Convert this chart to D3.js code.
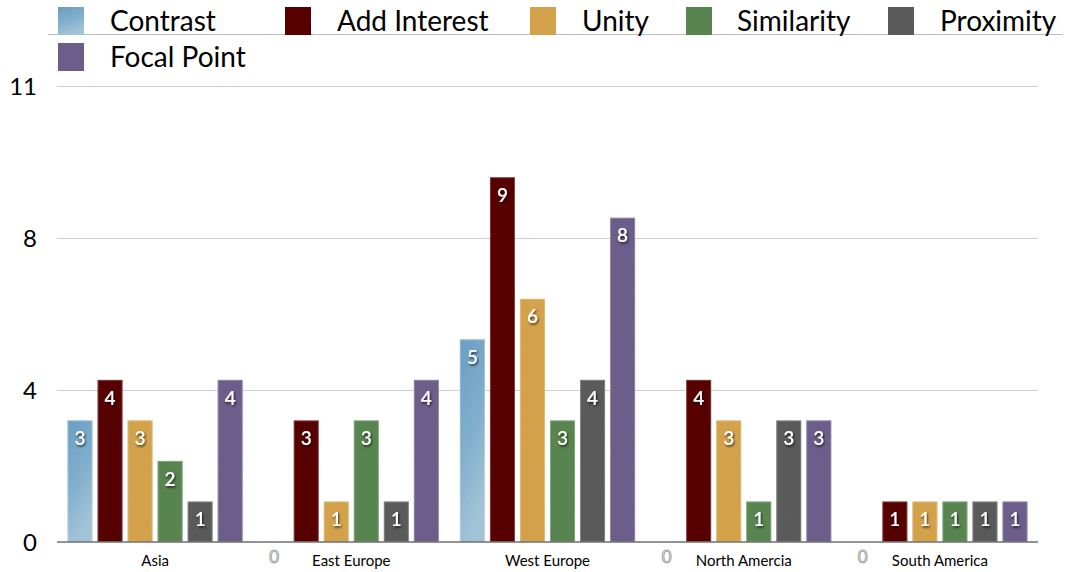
<!DOCTYPE html>
<html>
<head>
<meta charset="utf-8">
<script src="https://cdn.jsdelivr.net/npm/d3@7"></script>
<style>
  html, body { margin: 0; padding: 0; background: #fff; }
  svg { display: block; }
  text { font-family: Lato, "Open Sans", sans-serif; }
</style>
</head>
<body>
<svg id="chart" width="1070" height="572"></svg>
<script>
// ---- data ----
const categories = ["Asia", "East Europe", "West Europe", "North Amercia", "South America"];
const seriesNames = ["Contrast", "Add Interest", "Unity", "Similarity", "Proximity", "Focal Point"];
const contrast    = [3, 0, 5, 0, 0];
const addInterest = [4, 3, 9, 4, 1];
const unity       = [3, 1, 6, 3, 1];
const similarity  = [2, 3, 3, 1, 1];
const proximity   = [1, 1, 4, 3, 1];
const focalPoint  = [4, 4, 8, 3, 1];
const seriesValues = [contrast, addInterest, unity, similarity, proximity, focalPoint];
const yTickValues = [0, 3.75, 7.5, 11.25];
const yTickLabels = ["0", "4", "8", "11"];
const colors = ["#7aabcd", "#5a0303", "#d8a64d", "#5b8853", "#5d5d5d", "#6f618e"];

// ---- layout ----
const svg = d3.select("#chart");
const plot = { left: 57, right: 1038, top: 86, bottom: 542 };

const defs = svg.append("defs");
// paper-like texture filter
const f = defs.append("filter").attr("id", "tex").attr("x", 0).attr("y", 0).attr("width", 1).attr("height", 1);
f.append("feTurbulence").attr("type", "fractalNoise").attr("baseFrequency", 0.9).attr("numOctaves", 2).attr("seed", 3).attr("result", "noise");
f.append("feColorMatrix").attr("in", "noise").attr("type", "matrix")
  .attr("values", "0 0 0 0 0  0 0 0 0 0  0 0 0 0 0  0 0 0 0.10 0").attr("result", "n2");
f.append("feComposite").attr("in", "n2").attr("in2", "SourceGraphic").attr("operator", "in").attr("result", "n3");
f.append("feMerge").call(m => { m.append("feMergeNode").attr("in", "SourceGraphic"); m.append("feMergeNode").attr("in", "n3"); });

const g0 = defs.append("linearGradient").attr("id", "contrastGrad").attr("x1", 0).attr("y1", 0).attr("x2", 0.3).attr("y2", 1);
g0.append("stop").attr("offset", "0%").attr("stop-color", "#6ea2c8");
g0.append("stop").attr("offset", "55%").attr("stop-color", "#85b3d2");
g0.append("stop").attr("offset", "100%").attr("stop-color", "#a6c8dc");

const shadow = defs.append("filter").attr("id", "shadow").attr("x", -0.5).attr("y", -0.5).attr("width", 2).attr("height", 2);
shadow.append("feDropShadow").attr("dx", 1).attr("dy", 1.5).attr("stdDeviation", 1).attr("flood-color", "#000").attr("flood-opacity", 0.7);

const fillFor = i => i === 0 ? "url(#contrastGrad)" : colors[i];

const x0 = d3.scaleBand().domain(categories).range([plot.left, plot.right]).padding(0);
const innerPad = 10.5;
const x1 = d3.scaleBand().domain(seriesNames).range([innerPad, x0.bandwidth() - innerPad]).paddingInner(0.1667).paddingOuter(0);
const y = d3.scaleLinear().domain([0, 11.25]).range([plot.bottom, plot.top]);

// top decorative line under legend
svg.append("line").attr("x1", 48).attr("x2", 1063).attr("y1", 34.5).attr("y2", 34.5)
  .attr("stroke", "#bdbdbd").attr("stroke-width", 1);

// gridlines
svg.append("g").selectAll("line").data(yTickValues.filter(v => v > 0)).join("line")
  .attr("x1", plot.left).attr("x2", plot.right)
  .attr("y1", d => Math.round(y(d)) + 0.5).attr("y2", d => Math.round(y(d)) + 0.5)
  .attr("stroke", "#cfcfcf").attr("stroke-width", 1);

// y axis labels
const yAxis = d3.axisLeft(y).tickValues(yTickValues).tickSize(0).tickPadding(0)
  .tickFormat((d, i) => yTickLabels[i]);
const ya = svg.append("g").attr("transform", `translate(37,0)`).call(yAxis);
ya.select(".domain").remove();
ya.selectAll("text").attr("font-size", 24).attr("fill", "#000").attr("font-family", "Lato, sans-serif").attr("dy", "0.35em");

// bars
const groups = svg.append("g").selectAll("g").data(categories).join("g")
  .attr("transform", d => `translate(${x0(d)},0)`);

groups.each(function(cat, ci) {
  const g = d3.select(this);
  seriesNames.forEach((s, si) => {
    const v = seriesValues[si][ci];
    const bx = x1(s), bw = x1.bandwidth();
    if (v > 0) {
      g.append("rect").attr("x", bx).attr("y", y(v)).attr("width", bw).attr("height", y(0) - y(v))
        .attr("fill", fillFor(si)).attr("filter", "url(#tex)");
      g.append("rect").attr("x", bx + 0.5).attr("y", y(v) + 0.5).attr("width", bw - 1).attr("height", y(0) - y(v) - 1)
        .attr("fill", "none").attr("stroke", "#ffffff").attr("stroke-opacity", 0.25);
      g.append("text").attr("x", bx + bw / 2).attr("y", y(v) + 18).attr("dy", "0.35em")
        .attr("text-anchor", "middle").attr("font-size", 19).attr("font-weight", 600).attr("fill", "#fff")
        .attr("filter", "url(#shadow)").text(v);
    } else {
      g.append("text").attr("x", bx + bw / 2 - 2).attr("y", 557).attr("dy", "0.35em")
        .attr("text-anchor", "middle").attr("font-size", 17).attr("fill", "#fff")
        .attr("stroke", "#9a9a9a").attr("stroke-width", 0.9).text(v);
    }
  });
});

// x axis baseline
svg.append("line").attr("x1", plot.left).attr("x2", plot.right).attr("y1", 542).attr("y2", 542)
  .attr("stroke", "#6e6e6e").attr("stroke-width", 1.5);

// category labels
const xAxis = d3.axisBottom(x0).tickSize(0).tickPadding(0);
const xa = svg.append("g").attr("transform", `translate(0,561)`).call(xAxis);
xa.select(".domain").remove();
xa.selectAll("text").attr("font-size", 15).attr("fill", "#000").attr("font-family", "Lato, sans-serif").attr("dy", "0.35em");

// legend
const legendPos = [
  { sx: 58, tx: 110, cy: 21 }, { sx: 285, tx: 337, cy: 21 }, { sx: 530, tx: 582, cy: 21 },
  { sx: 686, tx: 737, cy: 21 }, { sx: 888, tx: 940, cy: 21 }, { sx: 58, tx: 110, cy: 57 }
];
const leg = svg.append("g").selectAll("g").data(seriesNames).join("g");
leg.append("rect").attr("x", (d, i) => legendPos[i].sx).attr("y", (d, i) => legendPos[i].cy - 14)
  .attr("width", 26).attr("height", 28).attr("fill", (d, i) => fillFor(i)).attr("filter", "url(#tex)");
leg.append("text").attr("x", (d, i) => legendPos[i].tx).attr("y", (d, i) => legendPos[i].cy).attr("dy", "0.36em")
  .attr("font-size", 28).attr("fill", "#000").text(d => d);
</script>
</body>
</html>
